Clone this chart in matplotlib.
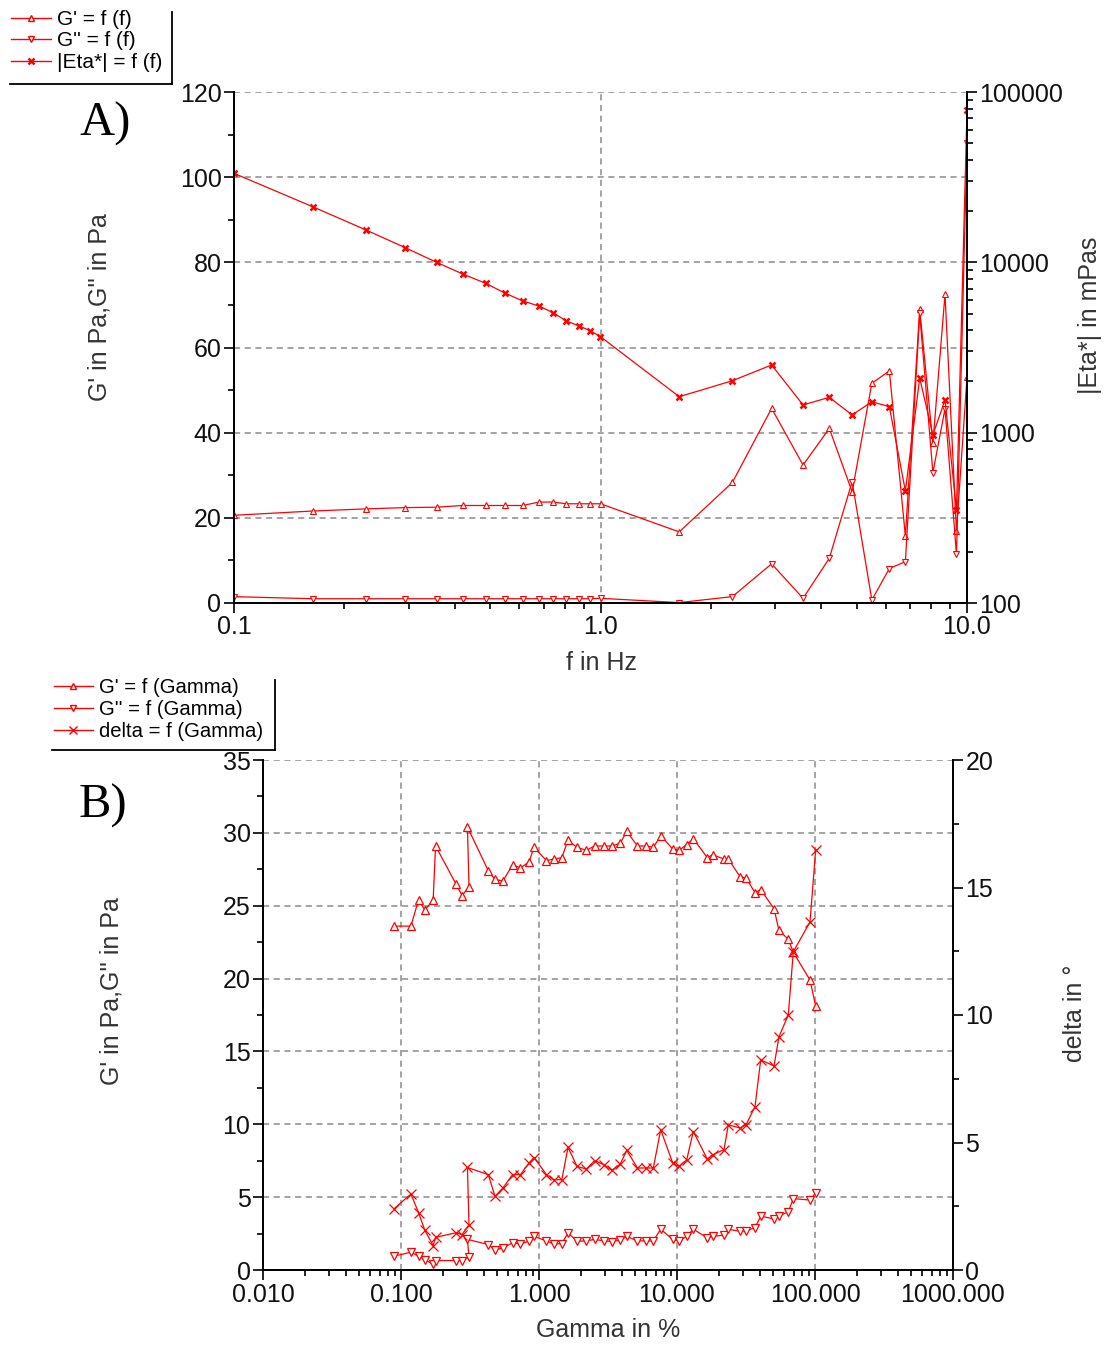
import numpy as np
import matplotlib.pyplot as plt
from matplotlib.lines import Line2D
from matplotlib.ticker import MultipleLocator, LogLocator, NullFormatter

plt.rcParams['font.family'] = ['Liberation Sans', 'DejaVu Sans']

# ---- panel A: frequency sweep ----
freq = [0.1, 0.164, 0.229, 0.293, 0.357, 0.421, 0.486, 0.55, 0.614, 0.679,
        0.743, 0.807, 0.871, 0.936, 1.0, 1.64, 2.29, 2.93, 3.57, 4.21,
        4.86, 5.5, 6.14, 6.79, 7.43, 8.07, 8.71, 9.36, 10.0]
g1_f = [20.6, 21.6, 22.1, 22.4, 22.5, 22.9, 22.9, 22.9, 22.9, 23.7,
        23.7, 23.3, 23.3, 23.3, 23.3, 16.7, 28.3, 45.7, 32.4, 41.0,
        26.1, 51.6, 54.5, 15.7, 69.0, 37.5, 72.5, 16.8, 53.0]
g2_f = [1.5, 1.0, 1.0, 1.0, 1.0, 1.0, 1.0, 1.0, 1.0, 1.0,
        1.0, 1.0, 1.0, 1.0, 1.1, 0.1, 1.5, 9.2, 1.1, 10.5,
        28.5, 0.7, 8.1, 9.7, 68.0, 30.6, 45.6, 11.4, 108.0]
eta_f = [33300, 21200, 15500, 12200, 10000, 8540, 7530, 6580, 5930, 5540,
         5060, 4520, 4250, 3970, 3660, 1626, 2018, 2496, 1454, 1613,
         1270, 1520, 1421, 455, 2090, 970, 1555, 352, 78000]

# ---- panel B: amplitude sweep ----
gamma = [0.089, 0.118, 0.134, 0.149, 0.171, 0.178, 0.250, 0.277, 0.311, 0.303,
         0.429, 0.480, 0.548, 0.643, 0.734, 0.846, 0.920, 1.133, 1.274, 1.463,
         1.623, 1.886, 2.209, 2.525, 2.958, 3.381, 3.882, 4.320, 5.173, 5.940,
         6.735, 7.618, 9.307, 10.34, 11.76, 13.13, 16.58, 18.15, 21.91, 23.53,
         28.61, 31.62, 36.75, 40.42, 50.46, 54.84, 64.05, 69.63, 92.0, 101.2]
g1_g = [23.6, 23.6, 25.4, 24.7, 25.4, 29.1, 26.5, 25.7, 26.3, 30.4,
        27.4, 26.8, 26.7, 27.8, 27.6, 28.0, 29.0, 28.1, 28.2, 28.3,
        29.5, 29.0, 28.8, 29.1, 29.1, 29.1, 29.3, 30.1, 29.1, 29.1,
        29.0, 29.8, 28.9, 28.8, 29.2, 29.6, 28.3, 28.5, 28.2, 28.2,
        27.0, 26.9, 25.9, 26.1, 24.8, 23.3, 22.7, 21.8, 19.9, 18.1]
g2_g = [0.95, 1.22, 0.95, 0.72, 0.38, 0.65, 0.65, 0.65, 0.88, 2.1,
        1.75, 1.36, 1.52, 1.86, 1.8, 1.97, 2.3, 2.0, 1.8, 1.8,
        2.55, 1.97, 2.0, 2.1, 2.0, 1.95, 2.05, 2.3, 2.0, 2.0,
        2.0, 2.8, 2.1, 2.0, 2.3, 2.8, 2.2, 2.3, 2.4, 2.8,
        2.65, 2.7, 2.9, 3.7, 3.5, 3.7, 4.0, 4.9, 4.8, 5.3]
delta = [2.4, 2.98, 2.25, 1.55, 0.96, 1.28, 1.46, 1.39, 1.78, 4.02,
         3.74, 2.89, 3.22, 3.74, 3.74, 4.2, 4.41, 3.74, 3.54, 3.54,
         4.81, 4.06, 3.96, 4.29, 4.13, 3.91, 4.16, 4.69, 4.0, 4.0,
         4.0, 5.5, 4.2, 4.06, 4.32, 5.43, 4.35, 4.52, 4.72, 5.69,
         5.57, 5.69, 6.41, 8.24, 8.0, 9.15, 10.0, 12.48, 13.65, 16.49]

RED = '#ff0000'
W, H = 1107, 1346


def box(l, t, r, b):
    return [l / W, 1 - b / H, (r - l) / W, (b - t) / H]


def fx(px):
    return px / W


def fy(py):
    return 1 - py / H


def style(ax, grid=True):
    ax.tick_params(which='both', direction='out', color='black',
                   labelcolor='#111111', labelsize=18, width=1.2)
    ax.tick_params(which='major', length=7, pad=2)
    ax.tick_params(which='minor', length=4)
    for s in ['left', 'right', 'bottom']:
        ax.spines[s].set_linewidth(1.4)
        ax.spines[s].set_color('black')
    ax.spines['top'].set_visible(False)
    if grid:
        ax.grid(True, which='major', color='#8a8a8a', ls=(0, (4, 3)), lw=1.1)
        ax.set_axisbelow(True)


fig = plt.figure(figsize=(W / 100, H / 100), dpi=100)

# ---------------- panel A ----------------
axA = fig.add_axes(box(234, 92, 967, 603))
axA2 = axA.twinx()

line_kw = dict(color=RED, lw=0.9)
axA.plot(freq, g1_f, marker='^', ms=5, mfc='white', mec=RED, mew=0.8, **line_kw)
axA.plot(freq, g2_f, marker='v', ms=5, mfc='white', mec=RED, mew=0.8, **line_kw)
axA2.plot(freq, eta_f, marker='x', ms=5, mec=RED, mew=1.8, **line_kw)

axA.set_xscale('log')
axA.set_xlim(0.1, 10)
axA.set_ylim(0, 120)
axA.set_xticks([0.1, 1, 10])
axA.set_xticklabels(['0.1', '1.0', '10.0'])
axA.xaxis.set_minor_locator(LogLocator(base=10, subs=np.arange(2, 10)))
axA.xaxis.set_minor_formatter(NullFormatter())
axA.yaxis.set_major_locator(MultipleLocator(20))
axA.yaxis.set_minor_locator(MultipleLocator(10))
style(axA)

axA2.set_yscale('log')
axA2.set_ylim(100, 100000)
axA2.set_yticks([100, 1000, 10000, 100000])
axA2.set_yticklabels(['100', '1000', '10000', '100000'])
axA2.yaxis.set_minor_locator(LogLocator(base=10, subs=np.arange(2, 10)))
axA2.yaxis.set_minor_formatter(NullFormatter())
style(axA2, grid=False)

fig.text(fx(100), fy(307), "G' in Pa,G'' in Pa", rotation=90, ha='center',
         va='center', fontsize=18, color='#333333')
fig.text(fx(1090), fy(315), '|Eta*| in mPas', rotation=90, ha='center',
         va='center', fontsize=18, color='#333333')
fig.text(fx(601), fy(663), 'f in Hz', ha='center', va='center',
         fontsize=18, color='#333333')
fig.text(fx(79), fy(124), 'A)', ha='left', va='center', fontsize=35,
         family=['Liberation Serif', 'DejaVu Serif'])

handlesA = [Line2D([], [], color=RED, lw=1, marker='^', ms=4, mfc='white', mec=RED),
            Line2D([], [], color=RED, lw=1, marker='v', ms=4, mfc='white', mec=RED),
            Line2D([], [], color=RED, lw=1, marker='x', ms=4, mew=1.8, mec=RED)]
fig.legend(handlesA, ["G' = f (f)", "G'' = f (f)", "|Eta*| = f (f)"],
           loc='upper left', bbox_to_anchor=(fx(11), fy(10)), frameon=False,
           fontsize=15, handlelength=1.9, handletextpad=0.3,
           labelspacing=0.12, borderpad=0, borderaxespad=0)
fig.add_artist(Line2D([fx(10), fx(172)], [fy(84), fy(84)], color='black',
                      lw=1.3, transform=fig.transFigure))
fig.add_artist(Line2D([fx(172), fx(172)], [fy(12), fy(84)], color='black',
                      lw=1.3, transform=fig.transFigure))

# ---------------- panel B ----------------
axB = fig.add_axes(box(263, 760, 953, 1270))
axB2 = axB.twinx()

axB.plot(gamma, g1_g, marker='^', ms=6, mfc='white', mec=RED, mew=0.9, **line_kw)
axB.plot(gamma, g2_g, marker='v', ms=6, mfc='white', mec=RED, mew=0.9, **line_kw)
axB2.plot(gamma, delta, marker='x', ms=7, mec=RED, mew=0.9, **line_kw)

axB.set_xscale('log')
axB.set_xlim(0.01, 1000)
axB.set_ylim(0, 35)
axB.set_xticks([0.01, 0.1, 1, 10, 100, 1000])
axB.set_xticklabels(['0.010', '0.100', '1.000', '10.000', '100.000', '1000.000'])
axB.xaxis.set_minor_locator(LogLocator(base=10, subs=np.arange(2, 10)))
axB.xaxis.set_minor_formatter(NullFormatter())
axB.yaxis.set_major_locator(MultipleLocator(5))
axB.yaxis.set_minor_locator(MultipleLocator(2.5))
style(axB)

axB2.set_ylim(0, 20)
axB2.yaxis.set_major_locator(MultipleLocator(5))
axB2.yaxis.set_minor_locator(MultipleLocator(2.5))
style(axB2, grid=False)

fig.text(fx(112), fy(991), "G' in Pa,G'' in Pa", rotation=90, ha='center',
         va='center', fontsize=18, color='#333333')
fig.text(fx(1075), fy(1013), 'delta in \u00b0', rotation=90, ha='center',
         va='center', fontsize=18, color='#333333')
fig.text(fx(608), fy(1330), 'Gamma in %', ha='center', va='center',
         fontsize=18, color='#333333')
fig.text(fx(79), fy(806), 'B)', ha='left', va='center', fontsize=35,
         family=['Liberation Serif', 'DejaVu Serif'])

handlesB = [Line2D([], [], color=RED, lw=1, marker='^', ms=5, mfc='white', mec=RED),
            Line2D([], [], color=RED, lw=1, marker='v', ms=5, mfc='white', mec=RED),
            Line2D([], [], color=RED, lw=1, marker='x', ms=6, mec=RED)]
fig.legend(handlesB, ["G' = f (Gamma)", "G'' = f (Gamma)", "delta = f (Gamma)"],
           loc='upper left', bbox_to_anchor=(fx(54), fy(678)), frameon=False,
           fontsize=14.6, handlelength=1.9, handletextpad=0.3,
           labelspacing=0.14, borderpad=0, borderaxespad=0)
fig.add_artist(Line2D([fx(52), fx(275)], [fy(750), fy(750)], color='black',
                      lw=1.3, transform=fig.transFigure))
fig.add_artist(Line2D([fx(275), fx(275)], [fy(680), fy(750)], color='black',
                      lw=1.3, transform=fig.transFigure))

fig.savefig('out.png', dpi=100)
